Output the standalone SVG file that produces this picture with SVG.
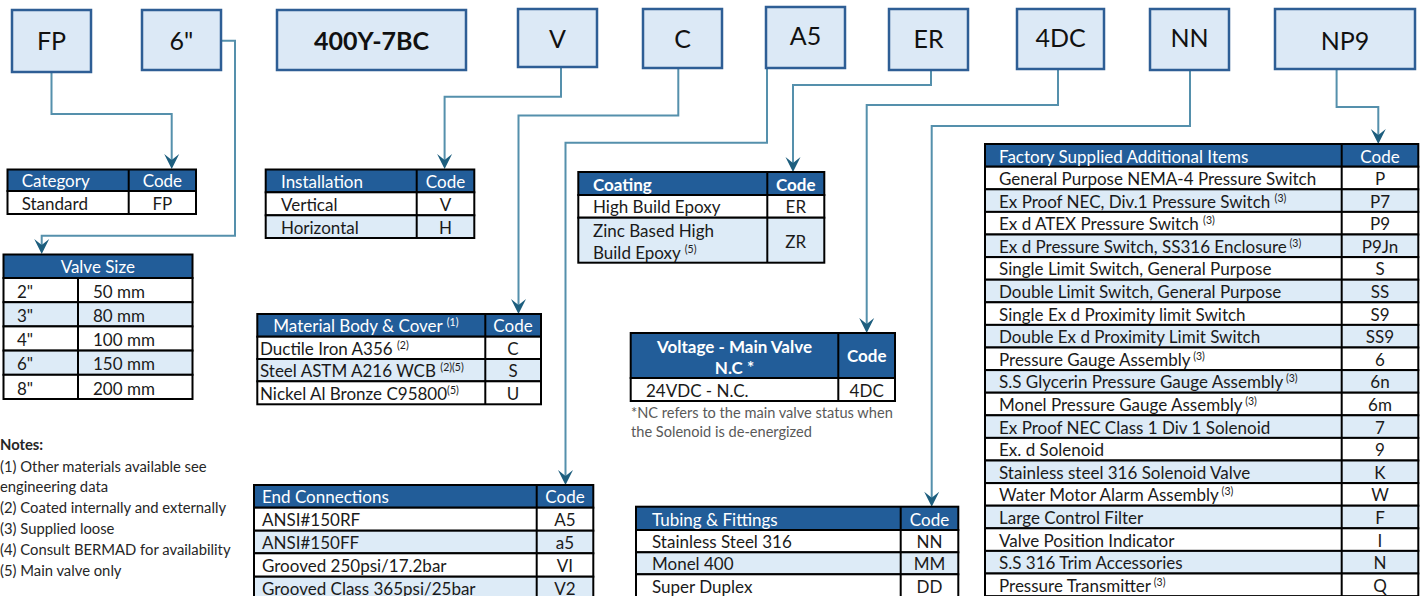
<svg xmlns="http://www.w3.org/2000/svg" width="1426" height="596" viewBox="0 0 1426 596">
<style>
.t{font-family:Lato,"Noto Sans",sans-serif;font-size:17px;fill:#1a1a1a}
.h{fill:#fff}
.c{text-anchor:middle}
.b{font-weight:bold}
.sup{font-size:10.5px}
.box{fill:#DCE9F6;stroke:#2E5E95;stroke-width:2.5}
.bt{font-family:Lato,"Noto Sans",sans-serif;font-size:25px;fill:#111;text-anchor:middle}
.cw{fill:#fff;stroke:#000;stroke-width:2}
.cb{fill:#DDEBF7;stroke:#000;stroke-width:2}
.ch{fill:#225D99;stroke:#000;stroke-width:2}
.dv{stroke:#000;stroke-width:2}
.note{font-family:Lato,"Noto Sans",sans-serif;font-size:14.8px;fill:#262626}
.fn{font-family:Lato,"Noto Sans",sans-serif;font-size:14.6px;fill:#595959}
#connectors path{fill:none;stroke:#5590AC;stroke-width:2;marker-end:url(#ah)}
</style>
<defs>
<marker id="ah" markerUnits="userSpaceOnUse" viewBox="-12 -8 17 16" markerWidth="17" markerHeight="16" refX="0" refY="0" orient="auto">
<path d="M4,0 L-11,-7.5 L-5,0 L-11,7.5 Z" fill="#1D5E7E"/>
</marker>
</defs>
<rect width="1426" height="596" fill="#fff"/>

<g id="connectors">
<path d="M51.5,72 V114 H171.7 V165"/>
<path d="M221,40.7 H235 V235.7 H41.7 V250"/>
<path d="M561,67 V96.7 H444.6 V165"/>
<path d="M678.3,68 V115.5 H518.5 V310"/>
<path d="M767,68 V142.7 H565.5 V481"/>
<path d="M931,70 V85 H793 V168"/>
<path d="M1058,69 V105 H866.7 V329"/>
<path d="M1190,70 V126 H931.7 V502.7"/>
<path d="M1336.6,69 V107 H1378.3 V140"/>
</g>

<g id="box-fp"><rect class="box" x="12" y="10" width="79" height="62"/><text class="bt" x="51.5" y="50">FP</text></g>
<g id="box-size"><rect class="box" x="142" y="10" width="79" height="60"/><text class="bt" x="181.5" y="50">6"</text></g>
<g id="box-model"><rect class="box" x="277" y="10" width="189" height="60"/><text class="bt b" x="371.5" y="50">400Y-7BC</text></g>
<g id="box-v"><rect class="box" x="518" y="9" width="79" height="58"/><text class="bt" x="557.5" y="48">V</text></g>
<g id="box-c"><rect class="box" x="643" y="9" width="79" height="59"/><text class="bt" x="682.5" y="48">C</text></g>
<g id="box-a5"><rect class="box" x="766" y="7" width="79" height="61"/><text class="bt" x="805.5" y="45">A5</text></g>
<g id="box-er"><rect class="box" x="889" y="9" width="79" height="61"/><text class="bt" x="928.5" y="48">ER</text></g>
<g id="box-4dc"><rect class="box" x="1017" y="9" width="87" height="60"/><text class="bt" x="1060.5" y="47">4DC</text></g>
<g id="box-nn"><rect class="box" x="1150" y="9" width="79" height="61"/><text class="bt" x="1189.5" y="47">NN</text></g>
<g id="box-np9"><rect class="box" x="1275" y="9" width="140" height="60"/><text class="bt" x="1345" y="50">NP9</text></g>

<g id="table-category">
<rect class="ch" x="7.5" y="169.5" width="188.5" height="21.5"/>
<rect class="cw" x="7.5" y="191" width="188.5" height="23"/>
<line class="dv" x1="128.7" y1="169.5" x2="128.7" y2="214"/>
<text class="t h" x="21.7" y="187">Category</text><text class="t h c" x="162.4" y="187">Code</text>
<text class="t" x="21.7" y="209.5">Standard</text><text class="t c" x="162.4" y="209.5">FP</text>
</g>

<g id="table-valvesize">
<rect class="ch" x="3.5" y="254.5" width="189" height="23.5"/>
<rect class="cw" x="3.5" y="278" width="189" height="24.2"/>
<rect class="cb" x="3.5" y="302.2" width="189" height="24.2"/>
<rect class="cw" x="3.5" y="326.4" width="189" height="24.2"/>
<rect class="cb" x="3.5" y="350.6" width="189" height="24.2"/>
<rect class="cw" x="3.5" y="374.8" width="189" height="24.2"/>
<line class="dv" x1="78" y1="278" x2="78" y2="399"/>
<text class="t h c" x="97.8" y="273">Valve Size</text>
<text class="t" x="17" y="297.7">2"</text><text class="t" x="93" y="297.7">50 mm</text>
<text class="t" x="17" y="321.9">3"</text><text class="t" x="93" y="321.9">80 mm</text>
<text class="t" x="17" y="346.1">4"</text><text class="t" x="93" y="346.1">100 mm</text>
<text class="t" x="17" y="370.3">6"</text><text class="t" x="93" y="370.3">150 mm</text>
<text class="t" x="17" y="394.5">8"</text><text class="t" x="93" y="394.5">200 mm</text>
</g>

<g id="notes">
<text class="note b" x="0" y="450">Notes:</text>
<text class="note" x="0" y="471.5">(1) Other materials available see</text>
<text class="note" x="0" y="492">engineering data</text>
<text class="note" x="0" y="513">(2) Coated internally and externally</text>
<text class="note" x="0" y="534">(3) Supplied loose</text>
<text class="note" x="0" y="555">(4) Consult BERMAD for availability</text>
<text class="note" x="0" y="576">(5) Main valve only</text>
</g>

<g id="table-installation">
<rect class="ch" x="265.7" y="169.5" width="208.6" height="22.8"/>
<rect class="cw" x="265.7" y="192.3" width="208.6" height="23"/>
<rect class="cb" x="265.7" y="215.3" width="208.6" height="22.7"/>
<line class="dv" x1="416.7" y1="169.5" x2="416.7" y2="238"/>
<text class="t h" x="281" y="188">Installation</text><text class="t h c" x="445.5" y="188">Code</text>
<text class="t" x="281" y="211">Vertical</text><text class="t c" x="445.5" y="211">V</text>
<text class="t" x="281" y="233.7">Horizontal</text><text class="t c" x="445.5" y="233.7">H</text>
</g>

<g id="table-material">
<rect class="ch" x="257.3" y="314" width="283.7" height="22.7"/>
<rect class="cw" x="257.3" y="336.7" width="283.7" height="22.3"/>
<rect class="cb" x="257.3" y="359" width="283.7" height="22.3"/>
<rect class="cw" x="257.3" y="381.3" width="283.7" height="23"/>
<line class="dv" x1="485.3" y1="314" x2="485.3" y2="404.3"/>
<text class="t h" x="273.3" y="332.2">Material Body &amp; Cover <tspan class="sup" dy="-6">(1)</tspan></text><text class="t h c" x="513" y="332.2">Code</text>
<text class="t" x="260" y="354.7">Ductile Iron A356 <tspan class="sup" dy="-6">(2)</tspan></text><text class="t c" x="513" y="354.7">C</text>
<text class="t" x="260" y="377">Steel ASTM A216 WCB <tspan class="sup" dy="-6">(2)(5)</tspan></text><text class="t c" x="513" y="377">S</text>
<text class="t" x="260" y="400">Nickel Al Bronze C95800<tspan class="sup" dy="-6">(5)</tspan></text><text class="t c" x="513" y="400">U</text>
</g>

<g id="table-coating">
<rect class="ch" x="578.3" y="172" width="246" height="23"/>
<rect class="cw" x="578.3" y="195" width="246" height="22.7"/>
<rect class="cb" x="578.3" y="217.7" width="246" height="45"/>
<line class="dv" x1="767.3" y1="172" x2="767.3" y2="262.7"/>
<text class="t h b" x="593" y="190.5">Coating</text><text class="t h c b" x="795.8" y="190.5">Code</text>
<text class="t" x="593" y="213.4">High Build Epoxy</text><text class="t c" x="795.8" y="213.4">ER</text>
<text class="t" x="593" y="236.5">Zinc Based High</text>
<text class="t" x="593" y="259">Build Epoxy <tspan class="sup" dy="-6">(5)</tspan></text>
<text class="t c" x="795.8" y="247.5">ZR</text>
</g>

<g id="table-voltage">
<rect class="ch" x="630.7" y="333" width="264.3" height="45"/>
<rect class="cw" x="630.7" y="378" width="264.3" height="23"/>
<line class="dv" x1="838.3" y1="333" x2="838.3" y2="401"/>
<text class="t h c b" x="734.5" y="352.5">Voltage - Main Valve</text>
<text class="t h c b" x="734.5" y="374">N.C *</text>
<text class="t h c b" x="866.7" y="361.5">Code</text>
<text class="t" x="646" y="396.5">24VDC - N.C.</text><text class="t c" x="866.7" y="396.5">4DC</text>
<text class="fn" x="631" y="418">*NC refers to the main valve status when</text>
<text class="fn" x="631" y="437">the Solenoid is de-energized</text>
</g>

<g id="table-end">
<rect class="ch" x="254" y="485" width="339.3" height="22.7"/>
<rect class="cw" x="254" y="507.7" width="339.3" height="23"/>
<rect class="cb" x="254" y="530.7" width="339.3" height="22.6"/>
<rect class="cw" x="254" y="553.3" width="339.3" height="23.4"/>
<rect class="cb" x="254" y="576.7" width="339.3" height="23.3"/>
<line class="dv" x1="536.7" y1="485" x2="536.7" y2="600"/>
<text class="t h" x="262" y="503.2">End Connections</text><text class="t h c" x="565" y="503.2">Code</text>
<text class="t" x="262" y="526.2">ANSI#150RF</text><text class="t c" x="565" y="526.2">A5</text>
<text class="t" x="262" y="548.8">ANSI#150FF</text><text class="t c" x="565" y="548.8">a5</text>
<text class="t" x="262" y="572.2">Grooved 250psi/17.2bar</text><text class="t c" x="565" y="572.2">VI</text>
<text class="t" x="262" y="594.5">Grooved Class 365psi/25bar</text><text class="t c" x="565" y="594.5">V2</text>
</g>

<g id="table-tubing">
<rect class="ch" x="636" y="506.7" width="322.3" height="23.3"/>
<rect class="cw" x="636" y="530" width="322.3" height="22.3"/>
<rect class="cb" x="636" y="552.3" width="322.3" height="22"/>
<rect class="cw" x="636" y="574.3" width="322.3" height="24"/>
<line class="dv" x1="900.7" y1="506.7" x2="900.7" y2="600"/>
<text class="t h" x="652" y="525.5">Tubing &amp; Fittings</text><text class="t h c" x="929.5" y="525.5">Code</text>
<text class="t" x="652" y="547.8">Stainless Steel 316</text><text class="t c" x="929.5" y="547.8">NN</text>
<text class="t" x="652" y="569.8">Monel 400</text><text class="t c" x="929.5" y="569.8">MM</text>
<text class="t" x="652" y="592.5">Super Duplex</text><text class="t c" x="929.5" y="592.5">DD</text>
</g>

<g id="table-factory">
<rect class="ch" x="985" y="144" width="433.3" height="22.7"/>
<rect class="cw" x="985" y="166.7" width="433.3" height="22.6"/>
<rect class="cb" x="985" y="189.3" width="433.3" height="22.6"/>
<rect class="cw" x="985" y="211.9" width="433.3" height="22.6"/>
<rect class="cb" x="985" y="234.5" width="433.3" height="22.6"/>
<rect class="cw" x="985" y="257.1" width="433.3" height="22.6"/>
<rect class="cb" x="985" y="279.7" width="433.3" height="22.6"/>
<rect class="cw" x="985" y="302.3" width="433.3" height="22.6"/>
<rect class="cb" x="985" y="324.9" width="433.3" height="22.6"/>
<rect class="cw" x="985" y="347.5" width="433.3" height="22.6"/>
<rect class="cb" x="985" y="370.1" width="433.3" height="22.6"/>
<rect class="cw" x="985" y="392.7" width="433.3" height="22.6"/>
<rect class="cb" x="985" y="415.3" width="433.3" height="22.6"/>
<rect class="cw" x="985" y="437.9" width="433.3" height="22.6"/>
<rect class="cb" x="985" y="460.5" width="433.3" height="22.6"/>
<rect class="cw" x="985" y="483.1" width="433.3" height="22.6"/>
<rect class="cb" x="985" y="505.7" width="433.3" height="22.6"/>
<rect class="cw" x="985" y="528.3" width="433.3" height="22.6"/>
<rect class="cb" x="985" y="550.9" width="433.3" height="22.6"/>
<rect class="cw" x="985" y="573.5" width="433.3" height="22.6"/>
<line class="dv" x1="1341.7" y1="144" x2="1341.7" y2="600"/>
<text class="t h" x="999" y="162.5">Factory Supplied Additional Items</text><text class="t h c" x="1380" y="162.5">Code</text>
<text class="t" x="999" y="185">General Purpose NEMA-4 Pressure Switch</text><text class="t c" x="1380" y="185">P</text>
<text class="t" x="999" y="207.6">Ex Proof NEC, Div.1 Pressure Switch <tspan class="sup" dy="-6">(3)</tspan></text><text class="t c" x="1380" y="207.6">P7</text>
<text class="t" x="999" y="230.2">Ex d ATEX Pressure Switch <tspan class="sup" dy="-6">(3)</tspan></text><text class="t c" x="1380" y="230.2">P9</text>
<text class="t" x="999" y="252.8">Ex d Pressure Switch, SS316 Enclosure<tspan class="sup" dy="-6"> (3)</tspan></text><text class="t c" x="1380" y="252.8">P9Jn</text>
<text class="t" x="999" y="275.4">Single Limit Switch, General Purpose</text><text class="t c" x="1380" y="275.4">S</text>
<text class="t" x="999" y="298">Double Limit Switch, General Purpose</text><text class="t c" x="1380" y="298">SS</text>
<text class="t" x="999" y="320.6">Single Ex d Proximity limit Switch</text><text class="t c" x="1380" y="320.6">S9</text>
<text class="t" x="999" y="343.2">Double Ex d Proximity Limit Switch</text><text class="t c" x="1380" y="343.2">SS9</text>
<text class="t" x="999" y="365.8">Pressure Gauge Assembly<tspan class="sup" dy="-6"> (3)</tspan></text><text class="t c" x="1380" y="365.8">6</text>
<text class="t" x="999" y="388.4">S.S Glycerin Pressure Gauge Assembly<tspan class="sup" dy="-6"> (3)</tspan></text><text class="t c" x="1380" y="388.4">6n</text>
<text class="t" x="999" y="411">Monel Pressure Gauge Assembly<tspan class="sup" dy="-6"> (3)</tspan></text><text class="t c" x="1380" y="411">6m</text>
<text class="t" x="999" y="433.6">Ex Proof NEC Class 1 Div 1 Solenoid</text><text class="t c" x="1380" y="433.6">7</text>
<text class="t" x="999" y="456.2">Ex. d Solenoid</text><text class="t c" x="1380" y="456.2">9</text>
<text class="t" x="999" y="478.8">Stainless steel 316 Solenoid Valve</text><text class="t c" x="1380" y="478.8">K</text>
<text class="t" x="999" y="501.4">Water Motor Alarm Assembly<tspan class="sup" dy="-6"> (3)</tspan></text><text class="t c" x="1380" y="501.4">W</text>
<text class="t" x="999" y="524">Large Control Filter</text><text class="t c" x="1380" y="524">F</text>
<text class="t" x="999" y="546.6">Valve Position Indicator</text><text class="t c" x="1380" y="546.6">I</text>
<text class="t" x="999" y="569.2">S.S 316 Trim Accessories</text><text class="t c" x="1380" y="569.2">N</text>
<text class="t" x="999" y="591.8">Pressure Transmitter<tspan class="sup" dy="-6"> (3)</tspan></text><text class="t c" x="1380" y="591.8">Q</text>
</g>
</svg>
